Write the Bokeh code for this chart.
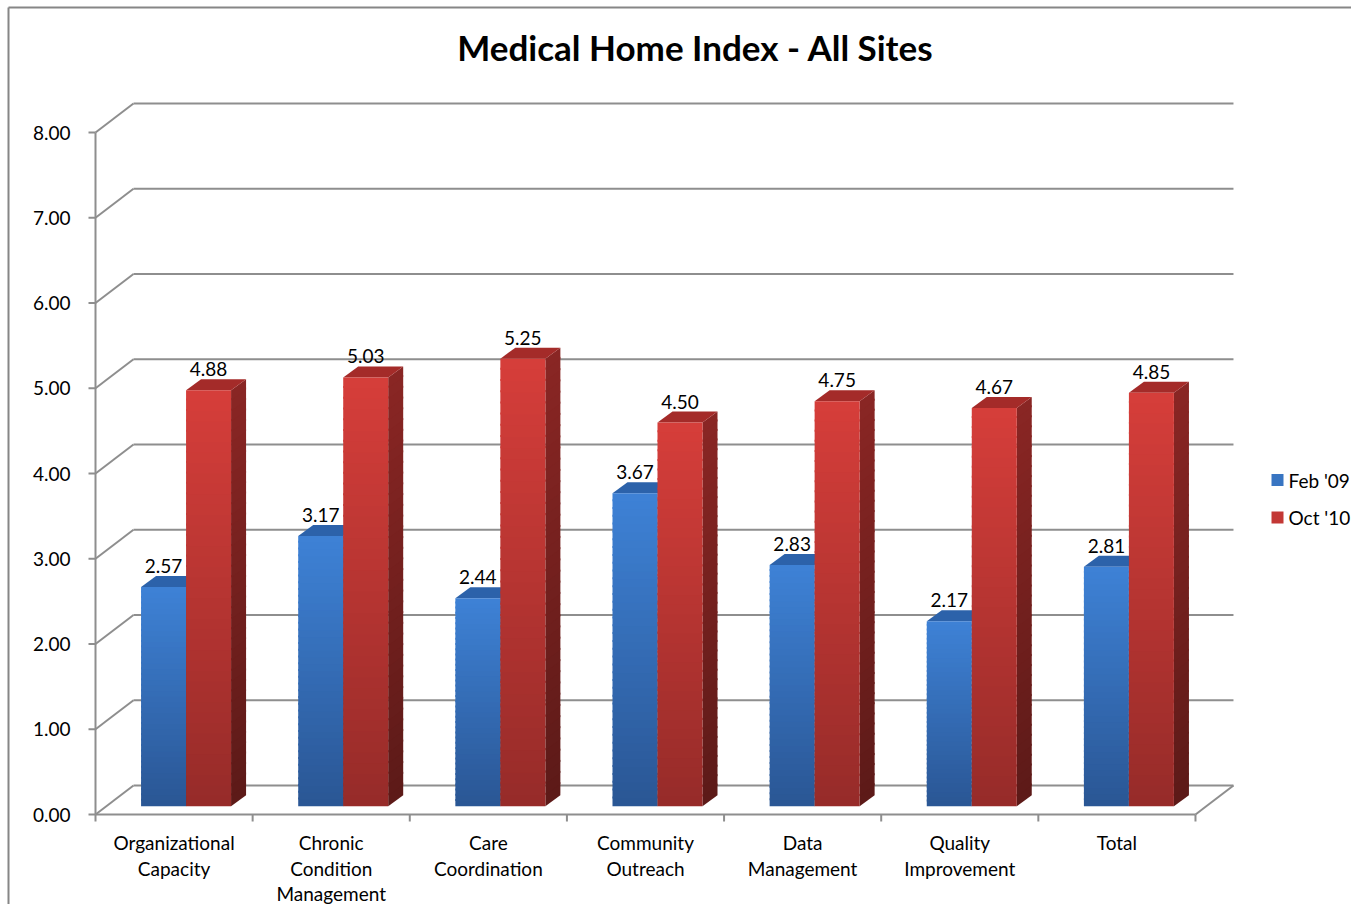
import numpy as np
from bokeh.plotting import figure
from bokeh.models import Range1d
from bokeh.embed import file_html
from bokeh.resources import INLINE
from bokeh.core.properties import value

# ---------------- data ----------------
categories = ["Organizational\nCapacity", "Chronic\nCondition\nManagement",
              "Care\nCoordination", "Community\nOutreach", "Data\nManagement",
              "Quality\nImprovement", "Total"]
series_names = ["Feb '09", "Oct '10"]
feb09 = [2.57, 3.17, 2.44, 3.67, 2.83, 2.17, 2.81]
oct10 = [4.88, 5.03, 5.25, 4.50, 4.75, 4.67, 4.85]
y_ticks = [0, 1, 2, 3, 4, 5, 6, 7, 8]
y_tick_labels = ["%.2f" % t for t in y_ticks]
title_text = "Medical Home Index - All Sites"

# ---------------- layout constants ----------------
W, H = 1351, 904
AX_X, AX_Y = 95, 814      # pixel position of the front axis origin
PX = 157.14               # pixels per category
PY = 85.25                # pixels per unit
FONT = "Lato"

def X(px_x):
    return (px_x - AX_X) / PX

def Y(px_y):
    return (AX_Y - px_y) / PY

def dx(px):
    return px / PX

def dy(px):
    return px / PY

n = len(categories)
DX, DY = dx(38), dy(29)          # wall depth
OX, OY = dx(12), dy(8.3)         # bar plane offset
BW = dx(45)                      # bar width
BDX, BDY = dx(15), dy(11)        # bar depth
GRID = "#8e8e8e"

p = figure(width=W, height=H, output_backend="svg", toolbar_location=None,
           x_range=Range1d(X(0), X(W)), y_range=Range1d(Y(H), Y(0)),
           x_axis_location=None, y_axis_location=None, min_border=0)
p.grid.visible = False
p.outline_line_color = None
p.background_fill_color = "white"
p.border_fill_color = "white"

# outer chart border
p.multi_line(xs=[[X(8), X(W)], [X(8), X(8)]],
             ys=[[Y(7), Y(7)], [Y(7), Y(H)]],
             line_color="#868686", line_width=2)

# ---------------- walls / grid ----------------
gx, gy = [], []
for t in y_ticks:
    gx.append([DX, n + DX]); gy.append([t + DY, t + DY])      # back wall line
    gx.append([0, DX]); gy.append([t, t + DY])                # side wall line
gx.append([0, n]); gy.append([0, 0])                          # floor front
gx.append([n, n + DX]); gy.append([0, DY])                    # floor right
gx.append([0, 0]); gy.append([0, y_ticks[-1]])                # value axis
for t in y_ticks:
    gx.append([-dx(7), 0]); gy.append([t, t])
for i in range(n + 1):
    gx.append([i, i]); gy.append([0, -dy(7)])
p.multi_line(xs=gx, ys=gy, line_color=GRID, line_width=2)

# ---------------- bars ----------------
def lerp(c0, c1, t):
    return "#%02x%02x%02x" % tuple(int(round(a + (b - a) * t)) for a, b in zip(c0, c1))

styles = [
    dict(front=((42, 86, 148), (62, 130, 214)), side=((28, 58, 100), (40, 88, 150)),
         top=(44, 98, 170)),
    dict(front=((150, 43, 41), (214, 62, 58)), side=((92, 26, 24), (138, 38, 36)),
         top=(164, 43, 41)),
]
NS = 40
for s, vals in enumerate([feb09, oct10]):
    st = styles[s]
    fl, fr, fb, ft, fc = [], [], [], [], []
    sx, sy, sc = [], [], []
    tx, ty = [], []
    for i, v in enumerate(vals):
        gc = i + 0.5 + OX
        xl = gc - BW if s == 0 else gc
        xr = xl + BW
        for k in range(NS):
            h0 = v * k / NS
            h1 = v * (k + 1) / NS
            h1e = h1 + (dy(2) if k < NS - 1 else 0)
            tt = (k + 0.5) / NS
            fl.append(xl); fr.append(xr); fb.append(OY + h0); ft.append(OY + h1e)
            fc.append(lerp(st["front"][0], st["front"][1], tt))
            sx.append([xr, xr + BDX, xr + BDX, xr])
            sy.append([OY + h0, OY + h0 + BDY, OY + h1e + BDY, OY + h1e])
            sc.append(lerp(st["side"][0], st["side"][1], tt))
        top = OY + v
        tx.append([xl, xr, xr + BDX, xl + BDX])
        ty.append([top, top, top + BDY, top + BDY])
    p.patches(xs=sx, ys=sy, fill_color=sc, line_color=None)
    p.patches(xs=tx, ys=ty, fill_color=lerp(st["top"], st["top"], 0), line_color=None)
    p.quad(left=fl, right=fr, bottom=fb, top=ft, fill_color=fc, line_color=None)

    # data labels
    lx = [i + 0.5 + OX + (-BW / 2 if s == 0 else BW / 2) for i in range(n)]
    ly = [OY + v + dy(21) for v in vals]
    p.text(x=lx, y=ly, text=["%.2f" % v for v in vals], text_align="center",
           text_baseline="middle", text_font=value(FONT),
           text_font_size="19px", text_color="#000000")

# ---------------- axis labels ----------------
p.text(x=[X(70)] * len(y_ticks), y=y_ticks, text=y_tick_labels, text_align="right",
       text_baseline="middle", text_font=value(FONT), text_font_size="19px",
       text_color="#000000")

cx, cy, ct = [], [], []
for i, c in enumerate(categories):
    for j, line in enumerate(c.split("\n")):
        cx.append(i + 0.5)
        cy.append(Y(842 + 25.5 * j))
        ct.append(line)
p.text(x=cx, y=cy, text=ct, text_align="center", text_baseline="middle",
       text_font=value(FONT), text_font_size="19px", text_color="#000000")

# ---------------- title ----------------
p.text(x=[X(695)], y=[Y(46.5)], text=[title_text], text_align="center",
       text_baseline="middle", text_font=value(FONT), text_font_style="bold",
       text_font_size="35px", text_color="#000000")

# ---------------- legend ----------------
leg_colors = [lerp(styles[0]["front"][1], styles[0]["front"][0], 0.3),
              lerp(styles[1]["front"][1], styles[1]["front"][0], 0.3)]
leg_y = [479.5, 517]
p.quad(left=[X(1271)] * 2, right=[X(1283)] * 2,
       bottom=[Y(yy + 6) for yy in leg_y], top=[Y(yy - 6) for yy in leg_y],
       fill_color=leg_colors, line_color=None)
p.text(x=[X(1288)] * 2, y=[Y(yy) for yy in leg_y], text=series_names,
       text_align="left", text_baseline="middle", text_font=value(FONT),
       text_font_size="19px", text_color="#000000")

open("out.html", "w").write(file_html(p, INLINE))
